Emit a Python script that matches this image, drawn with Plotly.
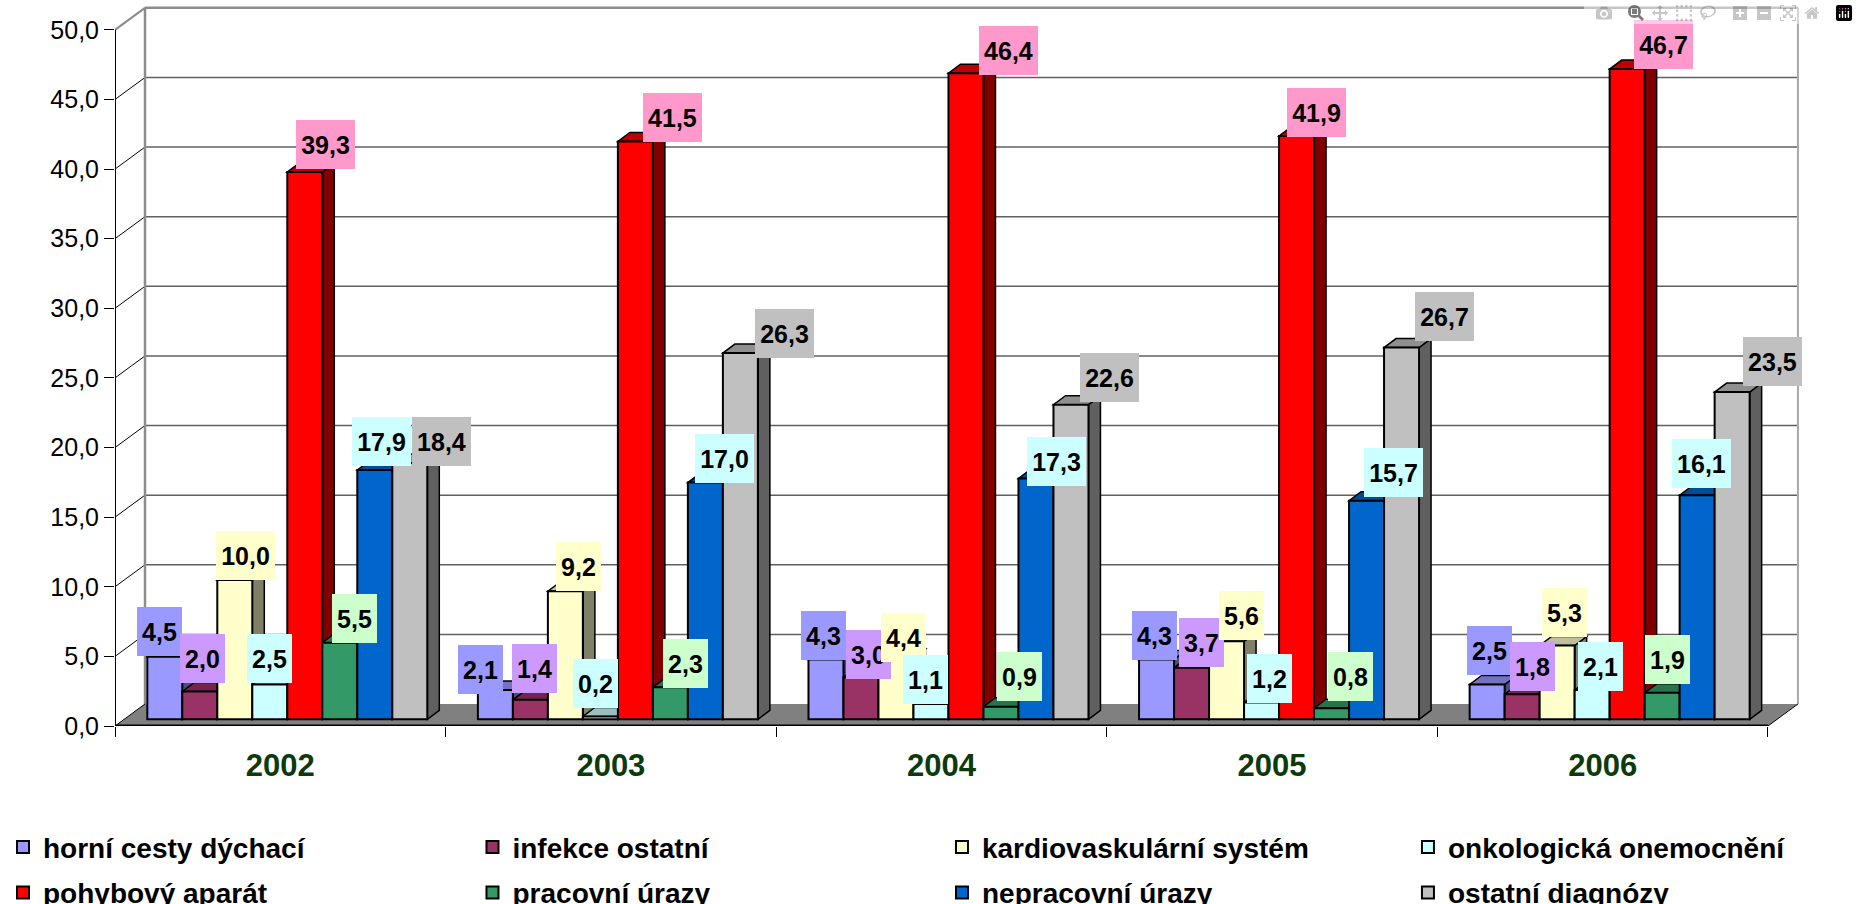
"""
Absence causes per year: flat Plotly bars dressed up with an oblique 3D look.
"""

import plotly.graph_objects as go

YEARS = ["2002", "2003", "2004", "2005", "2006"]
SERIES = [
    "horní cesty dýchací",
    "infekce ostatní",
    "kardiovaskulární systém",
    "onkologická onemocnění",
    "pohybový aparát",
    "pracovní úrazy",
    "nepracovní úrazy",
    "ostatní diagnózy",
]
HORNI = [4.5, 2.1, 4.3, 4.3, 2.5]
INFEKCE = [2.0, 1.4, 3.0, 3.7, 1.8]
KARDIO = [10.0, 9.2, 4.4, 5.6, 5.3]
ONKO = [2.5, 0.2, 1.1, 1.2, 2.1]
POHYB = [39.3, 41.5, 46.4, 41.9, 46.7]
PRACOVNI = [5.5, 2.3, 0.9, 0.8, 1.9]
NEPRACOVNI = [17.9, 17.0, 17.3, 15.7, 16.1]
OSTATNI = [18.4, 26.3, 22.6, 26.7, 23.5]
VALUES = [HORNI, INFEKCE, KARDIO, ONKO, POHYB, PRACOVNI, NEPRACOVNI, OSTATNI]

COLORS = ["#9999FF", "#993366", "#FFFFCC", "#CCFFFF", "#FF0000", "#339966", "#0066CC", "#C0C0C0"]
LABEL_COLORS = ["#9999FF", "#CC99FF", "#FFFFCC", "#CCFFFF", "#FF99CC", "#CCFFCC", "#CCFFFF", "#C0C0C0"]

# label offsets from the bar's top centre, px, per series then per year
LABEL_DX = [
    [-5, -15, -2, -2, 2],
    [3, 4, 8, 10, 10],
    [11, 13, 8, 15, 7],
    [0, -5, -5, 8, 8],
    [21, 37, 43, 20, 36],
    [15, 15, 19, 19, 5],
    [7, 19, 21, 27, 4],
    [32, 44, 39, 43, 40],
]
LABEL_DY = [
    [25, 21, 24, 24, 34],
    [33, 31, 23, 25, 28],
    [25, 25, 21, 26, 33],
    [26, 33, 24, 24, 24],
    [28, 24, 23, 23, 25],
    [24, 24, 30, 32, 33],
    [29, 24, 17, 28, 32],
    [22, 20, 27, 31, 31],
]

# reference geometry in px
FRONT_X = 115
ZERO_Y = 725.7
PX_PER_CAT = 330.6
PX_PER_UNIT = 13.92
WALL_DX = 30 / PX_PER_CAT
WALL_DY = 22 / PX_PER_UNIT
BAR_WIDTH = 35 / PX_PER_CAT
BAR_DX = 12 / PX_PER_CAT
BAR_DY = 9 / PX_PER_UNIT
BAR_BASE = 6.7 / PX_PER_UNIT
GROUP_SHIFT = 7 / PX_PER_CAT
X_RANGE = [-0.5, 4.6]
Y_RANGE = [0, 52]
FONT = "Liberation Sans"


def darker(color, factor):
    channels = [int(color[k:k + 2], 16) for k in (1, 3, 5)]
    return "rgb({},{},{})".format(*[round(c * factor) for c in channels])


def polygon(points, fill):
    path = "M " + " L ".join(f"{x},{y}" for x, y in points) + " Z"
    return dict(
        type="path", path=path, xref="x", yref="y", layer="below",
        fillcolor=fill, line=dict(color="black", width=1.5),
    )


def segment(x0, y0, x1, y1, color, width):
    return dict(
        type="line", x0=x0, y0=y0, x1=x1, y1=y1, xref="x", yref="y",
        layer="below", line=dict(color=color, width=width),
    )


def bar_center(year_idx, series_idx):
    return year_idx + GROUP_SHIFT + (series_idx - 3.5) * BAR_WIDTH


# walls, floor and grid
left, right = -0.5, 4.5
shapes = [
    dict(
        type="path",
        path=f"M {left},0 L {right},0 L {right + WALL_DX},{WALL_DY} L {left + WALL_DX},{WALL_DY} Z",
        xref="x", yref="y", layer="below", fillcolor="#808080", line=dict(width=0),
    )
]
for tick in range(5, 55, 5):
    top = tick == 50
    shapes.append(segment(left, tick, left + WALL_DX, tick + WALL_DY, "#8c8c8c" if top else "black", 2 if top else 1))
    shapes.append(segment(left + WALL_DX, tick + WALL_DY, right + WALL_DX, tick + WALL_DY, "#8c8c8c" if top else "#606060", 2.5 if top else 1.5))
shapes.append(segment(left + WALL_DX, WALL_DY, left + WALL_DX, 50 + WALL_DY, "#8c8c8c", 2.5))
shapes.append(segment(right + WALL_DX, WALL_DY, right + WALL_DX, 50 + WALL_DY, "#a8a8a8", 2))
shapes.append(segment(left, 0, left + WALL_DX, WALL_DY, "black", 1))
shapes.append(segment(left, 0, left, 50, "black", 2))
shapes.append(segment(left, 0, right, 0, "black", 3))
shapes.append(segment(right, 0, right + WALL_DX, WALL_DY, "black", 1))

# side and top faces, left to right; the bar fronts are traces and sit above
for i in range(len(YEARS)):
    for j, series in enumerate(VALUES):
        x0 = bar_center(i, j) - BAR_WIDTH / 2
        x1 = x0 + BAR_WIDTH
        y1 = BAR_BASE + series[i]
        shapes.append(polygon(
            [(x1, BAR_BASE), (x1 + BAR_DX, BAR_BASE + BAR_DY), (x1 + BAR_DX, y1 + BAR_DY), (x1, y1)],
            darker(COLORS[j], 0.5),
        ))
        shapes.append(polygon(
            [(x0, y1), (x1, y1), (x1 + BAR_DX, y1 + BAR_DY), (x0 + BAR_DX, y1 + BAR_DY)],
            darker(COLORS[j], 0.75),
        ))

fig = go.Figure()
for j, (name, series) in enumerate(zip(SERIES, VALUES)):
    fig.add_trace(go.Bar(
        x=[i + GROUP_SHIFT for i in range(len(YEARS))],
        y=series,
        base=BAR_BASE,
        name=name,
        showlegend=False,
        marker=dict(color=COLORS[j], line=dict(color="black", width=2)),
    ))

# one legend per column, two entries each
legend_layout = {}
for j, name in enumerate(SERIES):
    key = "legend" if j % 4 == 0 else f"legend{j % 4 + 1}"
    fig.add_trace(go.Scatter(
        x=[None], y=[None], mode="markers", name=name,
        legend=key.replace("legend", "legend"), legendgroup=name,
        marker=dict(symbol="square", color=COLORS[j], size=16, line=dict(color="black", width=2)),
    ))

plot_w = (X_RANGE[1] - X_RANGE[0]) * PX_PER_CAT
plot_h = (Y_RANGE[1] - Y_RANGE[0]) * PX_PER_UNIT
for col, swatch_center in enumerate([23, 492.5, 962, 1428]):
    key = "legend" if col == 0 else f"legend{col + 1}"
    legend_layout[key] = dict(
        x=(swatch_center - 20 - FRONT_X) / plot_w,
        y=(ZERO_Y - 822) / plot_h,
        xanchor="left",
        yanchor="top",
        orientation="v",
        bgcolor="rgba(0,0,0,0)",
        tracegroupgap=6,
        itemsizing="constant",
        font=dict(family=FONT, size=28, color="black", weight="bold"),
    )

annotations = []
for j, series in enumerate(VALUES):
    for i, value in enumerate(series):
        text = f"{value:.1f}".replace(".", ",")
        annotations.append(dict(
            x=bar_center(i, j), y=BAR_BASE + value, xref="x", yref="y",
            xshift=LABEL_DX[j][i], yshift=LABEL_DY[j][i],
            text=f"<b>{text}</b>", showarrow=False,
            width=59 if value >= 10 else 45, height=49,
            borderpad=0, borderwidth=0, bgcolor=LABEL_COLORS[j],
            font=dict(family=FONT, size=25, color="black"),
            align="center", valign="middle",
        ))

fig.update_layout(
    template="none",
    width=1858,
    height=904,
    barmode="group",
    bargap=1 - 8 * BAR_WIDTH,
    bargroupgap=0,
    separators=", ",
    paper_bgcolor="white",
    plot_bgcolor="white",
    font=dict(family=FONT, color="black"),
    margin=dict(
        l=FRONT_X,
        r=1858 - FRONT_X - plot_w,
        t=ZERO_Y - plot_h,
        b=904 - ZERO_Y,
        pad=0,
        autoexpand=False,
    ),
    xaxis=dict(
        range=X_RANGE,
        tickvals=list(range(len(YEARS))),
        ticktext=YEARS,
        ticks="",
        ticklabelstandoff=18,
        tickfont=dict(family=FONT, size=31, color="#0B3A0B", weight="bold"),
        showgrid=False,
        showline=False,
        zeroline=False,
        automargin=False,
        minor=dict(
            tickvals=[k - 0.5 for k in range(len(YEARS) + 1)],
            ticks="outside", ticklen=10, tickwidth=1, tickcolor="black", showgrid=False,
        ),
    ),
    yaxis=dict(
        range=Y_RANGE,
        tickvals=list(range(0, 55, 5)),
        tickformat=".1f",
        ticks="outside",
        ticklen=10,
        tickwidth=1,
        tickcolor="black",
        tickfont=dict(family=FONT, size=25, color="black"),
        showgrid=False,
        showline=False,
        zeroline=False,
        automargin=False,
    ),
    shapes=shapes,
    annotations=annotations,
    hovermode=False,
    **legend_layout,
)

fig.write_html("out.html", post_script="document.body.style.margin='0';")
